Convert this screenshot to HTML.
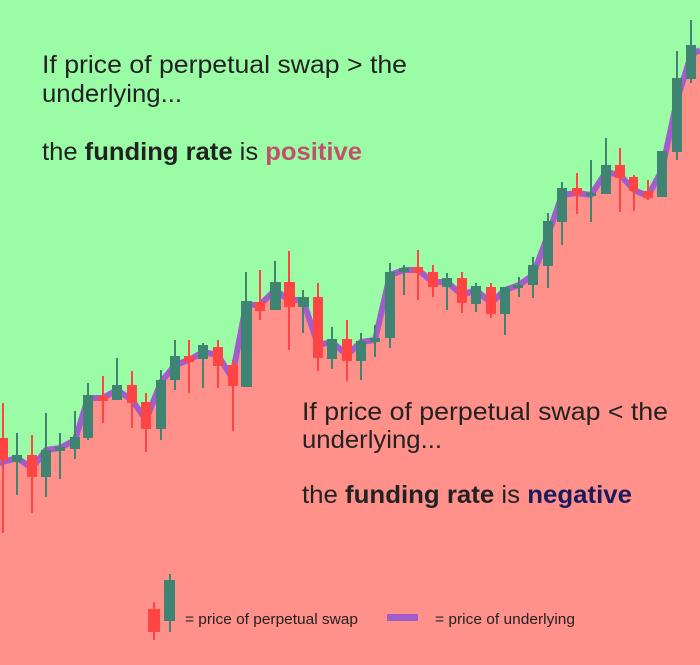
<!DOCTYPE html>
<html><head><meta charset="utf-8"><style>
html,body{margin:0;padding:0;width:700px;height:665px;overflow:hidden;background:#9afda6}
svg{display:block}
text{font-family:"Liberation Sans",sans-serif;fill:#222}
</style></head><body>
<svg width="700" height="665" viewBox="0 0 700 665">
<rect width="700" height="665" fill="#9afda6"/>
<polygon fill="#ff918a" points="0,462 3,462 17,458 32,468 46,450 60,448 75,440 88,398 103,398 117,390 132,400 146,420 161,382 175,365 189,360 203,352 218,355 232,378 246,305 260,305 275,290 289,300 303,300 318,345 332,342 347,355 361,342 375,340 390,275 404,270 418,270 433,282 447,282 462,295 476,290 491,303 505,290 519,285 533,275 548,235 562,195 577,193 591,195 606,172 620,175 634,190 648,196 662,170 677,100 691,55 700,50 700,665 0,665"/>
<polyline fill="none" stroke="#a35ccc" stroke-width="6" stroke-linejoin="round" points="0,465 3,462 17,458 32,468 46,450 60,448 75,440 88,398 103,398 117,390 132,400 146,420 161,382 175,365 189,360 203,352 218,355 232,378 246,305 260,305 275,290 289,300 303,300 318,345 332,342 347,355 361,342 375,340 390,275 404,270 418,270 433,282 447,282 462,295 476,290 491,303 505,290 519,285 533,275 548,235 562,195 577,193 591,195 606,172 620,175 634,190 648,196 662,170 677,100 691,55 700,50"/>
<g fill="#ff4444">
<rect x="2" y="403" width="2" height="130"/><rect x="-2" y="438" width="10" height="22"/>
<rect x="31" y="435" width="2" height="78"/><rect x="27" y="455" width="10" height="22"/>
<rect x="102" y="376" width="2" height="47"/><rect x="98" y="396" width="10" height="5"/>
<rect x="131" y="371" width="2" height="57"/><rect x="127" y="385" width="10" height="18"/>
<rect x="145" y="393" width="2" height="59"/><rect x="141" y="402" width="10" height="27"/>
<rect x="188" y="340" width="2" height="53"/><rect x="184" y="356" width="10" height="6"/>
<rect x="217" y="340" width="2" height="48"/><rect x="213" y="347" width="10" height="19"/>
<rect x="232" y="360" width="2" height="71"/><rect x="228" y="365" width="10" height="21"/>
<rect x="259" y="270" width="2" height="50"/><rect x="255" y="302" width="10" height="9"/>
<rect x="288" y="251" width="2" height="99"/><rect x="284" y="282" width="11" height="25"/>
<rect x="317" y="283" width="2" height="88"/><rect x="313" y="297" width="10" height="61"/>
<rect x="346" y="320" width="2" height="61"/><rect x="342" y="339" width="10" height="22"/>
<rect x="417" y="250" width="2" height="50"/><rect x="413" y="267" width="10" height="6"/>
<rect x="432" y="265" width="2" height="32"/><rect x="428" y="272" width="10" height="15"/>
<rect x="461" y="272" width="2" height="41"/><rect x="457" y="278" width="10" height="25"/>
<rect x="490" y="283" width="2" height="35"/><rect x="486" y="287" width="10" height="27"/>
<rect x="576" y="173" width="2" height="41"/><rect x="572" y="188" width="10" height="7"/>
<rect x="619" y="148" width="2" height="64"/><rect x="615" y="165" width="10" height="13"/>
<rect x="633" y="175" width="2" height="36"/><rect x="629" y="177" width="9" height="14"/>
<rect x="647" y="180" width="2" height="20"/><rect x="643" y="191" width="10" height="7"/>
<rect x="153" y="602" width="2" height="38"/><rect x="148" y="609" width="12" height="23"/>
</g>
<g fill="#3f8473">
<rect x="16" y="433" width="2" height="62"/><rect x="12" y="455" width="10" height="7"/>
<rect x="45" y="413" width="2" height="84"/><rect x="41" y="450" width="10" height="27"/>
<rect x="59" y="433" width="2" height="46"/><rect x="55" y="447" width="10" height="4"/>
<rect x="74" y="411" width="2" height="48"/><rect x="70" y="437" width="10" height="12"/>
<rect x="87" y="383" width="2" height="57"/><rect x="83" y="395" width="10" height="43"/>
<rect x="116" y="358" width="2" height="42"/><rect x="112" y="385" width="10" height="15"/>
<rect x="160" y="370" width="2" height="70"/><rect x="156" y="380" width="10" height="49"/>
<rect x="174" y="340" width="2" height="50"/><rect x="170" y="356" width="10" height="24"/>
<rect x="202" y="343" width="2" height="45"/><rect x="198" y="345" width="10" height="14"/>
<rect x="245" y="272" width="2" height="115"/><rect x="241" y="301" width="11" height="86"/>
<rect x="274" y="261" width="2" height="49"/><rect x="270" y="282" width="11" height="28"/>
<rect x="302" y="290" width="2" height="43"/><rect x="298" y="297" width="11" height="10"/>
<rect x="331" y="327" width="2" height="42"/><rect x="327" y="339" width="10" height="20"/>
<rect x="360" y="333" width="2" height="47"/><rect x="356" y="341" width="10" height="20"/>
<rect x="374" y="325" width="2" height="32"/><rect x="370" y="338" width="10" height="4"/>
<rect x="389" y="263" width="2" height="85"/><rect x="385" y="272" width="10" height="66"/>
<rect x="403" y="265" width="2" height="30"/><rect x="399" y="268" width="10" height="4"/>
<rect x="446" y="273" width="2" height="37"/><rect x="442" y="278" width="10" height="9"/>
<rect x="475" y="283" width="2" height="29"/><rect x="471" y="286" width="10" height="18"/>
<rect x="504" y="287" width="2" height="48"/><rect x="500" y="287" width="10" height="27"/>
<rect x="518" y="277" width="2" height="20"/><rect x="513" y="285" width="10" height="3"/>
<rect x="532" y="257" width="2" height="41"/><rect x="528" y="265" width="10" height="20"/>
<rect x="547" y="213" width="2" height="75"/><rect x="543" y="221" width="10" height="45"/>
<rect x="561" y="182" width="2" height="63"/><rect x="557" y="188" width="10" height="34"/>
<rect x="590" y="160" width="2" height="62"/><rect x="586" y="193" width="10" height="3"/>
<rect x="605" y="138" width="2" height="56"/><rect x="601" y="165" width="10" height="29"/>
<rect x="661" y="151" width="2" height="46"/><rect x="657" y="151" width="10" height="46"/>
<rect x="676" y="51" width="2" height="109"/><rect x="672" y="78" width="10" height="74"/>
<rect x="690" y="20" width="2" height="63"/><rect x="686" y="45" width="10" height="34"/>
<rect x="169" y="574" width="2" height="58"/><rect x="164" y="580" width="11" height="41"/>
</g>
<rect x="387" y="614" width="31" height="7" fill="#a35ccc"/>
<text x="185" y="624" font-size="15" textLength="173" lengthAdjust="spacingAndGlyphs">= price of perpetual swap</text>
<text x="435" y="624" font-size="15" textLength="140" lengthAdjust="spacingAndGlyphs">= price of underlying</text>
<text x="42" y="73" font-size="25" textLength="365" lengthAdjust="spacingAndGlyphs">If price of perpetual swap &gt; the</text>
<text x="42" y="102" font-size="25" textLength="140" lengthAdjust="spacingAndGlyphs">underlying...</text>
<text x="42" y="160" font-size="25" textLength="320" lengthAdjust="spacingAndGlyphs">the <tspan font-weight="bold">funding rate</tspan> is <tspan font-weight="bold" fill="#c2506c">positive</tspan></text>
<text x="302" y="420" font-size="25" textLength="366" lengthAdjust="spacingAndGlyphs">If price of perpetual swap &lt; the</text>
<text x="302" y="448" font-size="25" textLength="140" lengthAdjust="spacingAndGlyphs">underlying...</text>
<text x="302" y="503" font-size="25" textLength="330" lengthAdjust="spacingAndGlyphs">the <tspan font-weight="bold">funding rate</tspan> is <tspan font-weight="bold" fill="#1b1a5c">negative</tspan></text>
</svg>
</body></html>
